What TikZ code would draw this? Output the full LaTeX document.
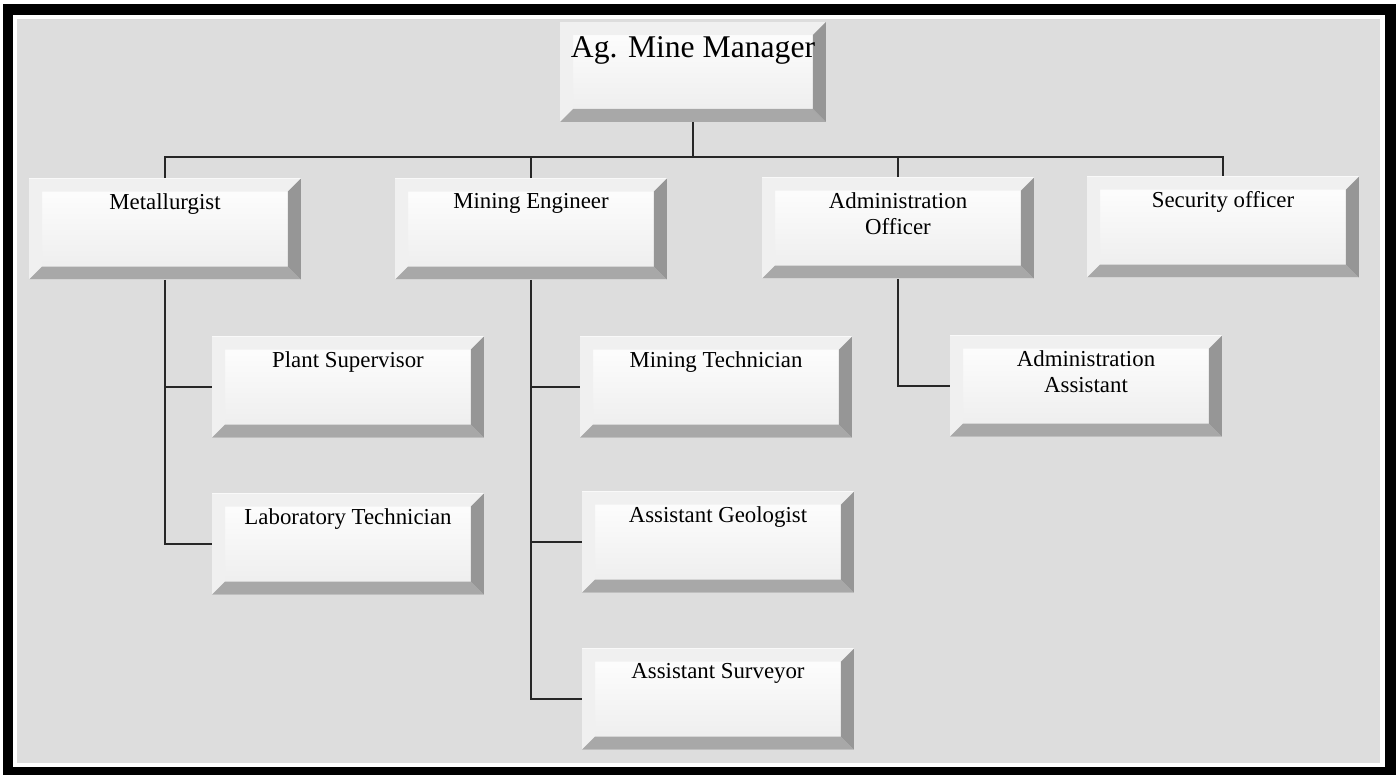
\documentclass[tikz,border=0pt]{standalone}
\usepackage{fontspec}
\setmainfont{Liberation Serif}
\usepackage{xcolor}
\usetikzlibrary{positioning,calc}

\definecolor{panel}{RGB}{221,221,221}
\definecolor{face}{RGB}{236,236,236}
\definecolor{bevlite}{RGB}{240,240,240}
\definecolor{bevside}{RGB}{150,150,150}
\definecolor{bevfoot}{RGB}{168,168,168}

\tikzset{
  boxtext/.style={anchor=north, yshift=-0.3cm, inner sep=0pt, align=center, font=\fontsize{13}{15}\selectfont},
  unit/.style={rectangle, minimum width=5.44cm, minimum height=2.02cm, inner sep=0pt,
    top color=white, bottom color=face,
    label={[boxtext]north:#1},
    path picture={
      \coordinate (p) at (path picture bounding box.south west);
      \coordinate (q) at (path picture bounding box.north east);
      \fill[bevlite] (p) -- (p |- q) -- (q) -- ++(-0.26cm,-0.26cm)
        -- ($(p |- q)+(0.26cm,-0.26cm)$) -- ($(p)+(0.26cm,0.26cm)$) -- cycle;
      \fill[bevfoot] (p) -- (q |- p) -- ++(-0.26cm,0.26cm) -- ($(p)+(0.26cm,0.26cm)$) -- cycle;
      \fill[bevside] (q) -- (q |- p) -- ++(-0.26cm,0.26cm) -- ($(q)+(-0.26cm,-0.26cm)$) -- cycle;
    }},
  wire/.style={draw, line width=1pt, black!85}
}

\begin{document}
\begin{tikzpicture}[x=0.02cm, y=-0.02cm]
    \useasboundingbox (0,0) rectangle (1400,775);
    \fill[black] (3,4) rectangle (1396,775);
    \fill[white] (13,15) rectangle (1385,767);
    \fill[panel] (17,19) rectangle (1380,763);

    \node (mgr) [unit={\fontsize{18}{21}\selectfont Ag. Mine Manager}, minimum width=5.32cm, minimum height=2cm] at (693,72) {};

    \node (met) [unit=Metallurgist] at (165,229) {};
    \node (eng) [unit=Mining Engineer] at (531,229) {};
    \node (adm) [unit={Administration\\Officer}] at (898,228) {};
    \node (sec) [unit=Security officer] at (1223,227) {};

    \node (plant) [unit=Plant Supervisor] at (348,387) {};
    \node (lab) [unit=Laboratory Technician] at (348,544) {};

    \node (tech) [unit=Mining Technician] at (716,387) {};
    \node (geo) [unit=Assistant Geologist] at (718,542) {};
    \node (surv) [unit=Assistant Surveyor] at (718,699) {};

    \node (asst) [unit={Administration\\Assistant}] at (1086,386) {};

    \coordinate (bus) at (693,157);
    \draw [wire] (mgr.south) -- (mgr.south |- bus);
    \draw [wire] (met.north) -- (met.north |- bus) -- (sec.north |- bus) -- (sec.north);
    \draw [wire] (eng.north) -- (eng.north |- bus);
    \draw [wire] (adm.north) -- (adm.north |- bus);

    \draw [wire] (met.south) |- (lab.west);
    \draw [wire] (met.south |- plant.west) -- (plant.west);

    \draw [wire] (eng.south) |- (surv.west);
    \draw [wire] (eng.south |- tech.west) -- (tech.west);
    \draw [wire] (eng.south |- geo.west) -- (geo.west);

    \draw [wire] (adm.south) |- (asst.west);
\end{tikzpicture}
\end{document}
